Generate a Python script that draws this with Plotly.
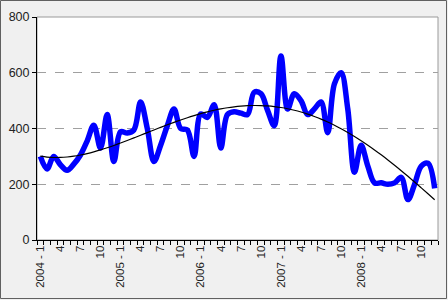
import numpy as np
import plotly.graph_objects as go

years = [2004, 2005, 2006, 2007, 2008]
months = list(range(1, 13))
values = [300, 255, 300, 270, 250, 272, 305, 355, 412, 330, 450, 282,
          388, 384, 395, 495, 400, 282, 340, 410, 470, 400, 395, 300,
          452, 440, 485, 330, 450, 460, 455, 450, 530, 525, 465, 410,
          660, 470, 525, 500, 450, 470, 495, 385, 560, 600, 470, 243,
          340, 265, 205, 205, 200, 205, 225, 145, 200, 265, 275, 185]
y_ticks = [0, 200, 400, 600, 800]
trend_order = 4

n = len(values)
xs = list(range(n))
tick_idx = [i for i in range(n) if (i % 12) % 3 == 0]
tick_text = [f"{years[i // 12]} - 1" if i % 12 == 0 else str(months[i % 12]) for i in tick_idx]

coef = np.polyfit(xs, values, trend_order)
trend = np.polyval(coef, xs)

fig = go.Figure()
fig.add_trace(go.Scatter(x=xs, y=values, mode="lines",
                         line=dict(color="#0000ff", width=5.5, shape="spline", smoothing=1),
                         hoverinfo="skip"))
fig.add_trace(go.Scatter(x=xs, y=trend, mode="lines",
                         line=dict(color="#000000", width=1.2, shape="spline"),
                         hoverinfo="skip"))

L, R, T, B = 37, 10, 17, 60
W, H = 448, 300
pw, ph = W - L - R, H - T - B

fig.update_layout(
    width=W, height=H,
    margin=dict(l=L, r=R, t=T, b=B),
    paper_bgcolor="#f0f0f0",
    plot_bgcolor="#ffffff",
    showlegend=False,
    font=dict(family="Liberation Sans, Arial, sans-serif", size=11, color="#222222"),
    xaxis=dict(range=[-0.5, n - 0.5], tickmode="array", tickvals=tick_idx, ticktext=tick_text,
               tickangle=-90, ticks="", showgrid=False, zeroline=False,
               showline=True, linecolor="#000000", linewidth=1,
               tickfont=dict(size=11.5),
               minor=dict(tickmode="linear", tick0=-0.5, dtick=1, ticks="outside",
                          ticklen=4, tickcolor="#000000", showgrid=False)),
    yaxis=dict(range=[0, 800], tickvals=y_ticks, showgrid=True, gridcolor="#a0a0a0",
               griddash="dash", gridwidth=1, zeroline=False,
               showline=True, linecolor="#000000", linewidth=1,
               ticks="outside", ticklen=4, tickcolor="#000000",
               tickfont=dict(size=12.5)),
)
fig.add_shape(type="rect", xref="paper", yref="paper", x0=0, x1=1, y0=0, y1=1,
              line=dict(color="#9a9a9a", width=1), layer="below")
fig.add_shape(type="rect", xref="paper", yref="paper",
              x0=-(L - 0.5) / pw, x1=(pw + R - 1.5) / pw,
              y0=-(B - 1.5) / ph, y1=(ph + T - 0.5) / ph,
              line=dict(color="#606060", width=1))

fig.write_html("out.html")
